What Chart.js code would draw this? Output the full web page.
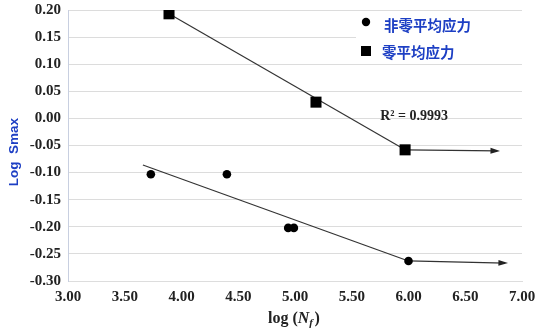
<!DOCTYPE html>
<html>
<head>
<meta charset="utf-8">
<script src="https://cdn.jsdelivr.net/npm/chart.js"></script>
<style>
  html, body { margin: 0; padding: 0; background: #fff; }
  #wrap { width: 554px; height: 330px; }
</style>
</head>
<body>
<div id="wrap"><canvas id="snChart" width="554" height="330"></canvas></div>
<script>
// log(Nf) and log(Smax) readings
const nonZeroLogN = [3.73, 4.40, 4.94, 4.99, 6.00];
const nonZeroLogS = [-0.103, -0.103, -0.202, -0.202, -0.263];
const zeroLogN = [3.89, 5.185, 5.97];
const zeroLogS = [0.193, 0.030, -0.058];

// fitted lines and run-out arrows
const nonZeroFitN = [3.66, 6.00];
const nonZeroFitS = [-0.086, -0.263];
const zeroFitN = [3.89, 5.97];
const zeroFitS = [0.193, -0.058];
const nonZeroRunN = [6.00, 6.85];
const nonZeroRunS = [-0.263, -0.267];
const zeroRunN = [5.97, 6.78];
const zeroRunS = [-0.058, -0.060];

const seriesNames = ['非零平均应力', '零平均应力'];
const r2Text = 'R² = 0.9993';
const r2At = [5.75, 0.0];

const toPts = (xs, ys) => xs.map((x, i) => ({ x: x, y: ys[i] }));

const serif = "'Liberation Serif', 'Times New Roman', serif";
const blue = '#1d3fc4';

const lineSet = (xs, ys, arrow) => ({
  type: 'line',
  data: toPts(xs, ys),
  borderColor: '#333',
  borderWidth: 1.2,
  pointRadius: 0,
  fill: false,
  arrow: arrow
});

// draws arrow heads, legend, R² note and the axis titles
const extras = {
  id: 'extras',
  afterDatasetsDraw(chart) {
    const ctx = chart.ctx;
    const xs = chart.scales.x, ys = chart.scales.y;
    ctx.save();

    chart.data.datasets.forEach((ds) => {
      if (!ds.arrow) return;
      const a = ds.data[ds.data.length - 2], b = ds.data[ds.data.length - 1];
      const x0 = xs.getPixelForValue(a.x), y0 = ys.getPixelForValue(a.y);
      const x1 = xs.getPixelForValue(b.x), y1 = ys.getPixelForValue(b.y);
      const ang = Math.atan2(y1 - y0, x1 - x0);
      ctx.fillStyle = '#222';
      ctx.beginPath();
      ctx.moveTo(x1 + 3, y1);
      ctx.lineTo(x1 + 3 - 10 * Math.cos(ang - 0.3), y1 - 10 * Math.sin(ang - 0.3));
      ctx.lineTo(x1 + 3 - 10 * Math.cos(ang + 0.3), y1 - 10 * Math.sin(ang + 0.3));
      ctx.closePath();
      ctx.fill();
    });

    // legend
    ctx.fillStyle = '#fff';
    ctx.fillRect(356, 14, 168, 46);
    ctx.fillStyle = '#000';
    ctx.beginPath();
    ctx.arc(366, 22, 4.2, 0, Math.PI * 2);
    ctx.fill();
    ctx.fillRect(361, 46, 10, 10);
    ctx.font = "bold 14.5px 'Noto Sans CJK SC', sans-serif";
    ctx.fillStyle = blue;
    ctx.textBaseline = 'middle';
    ctx.textAlign = 'left';
    ctx.fillText(seriesNames[0], 384, 25);
    ctx.fillText(seriesNames[1], 382, 52);

    // R²
    ctx.font = 'bold 14px ' + serif;
    ctx.fillStyle = '#222';
    ctx.fillText(r2Text, xs.getPixelForValue(r2At[0]), ys.getPixelForValue(r2At[1]) - 2);

    // y title
    ctx.save();
    ctx.translate(14, 152);
    ctx.rotate(-Math.PI / 2);
    ctx.textAlign = 'center';
    ctx.font = "bold 13.5px 'Liberation Sans', Arial, sans-serif";
    ctx.fillStyle = blue;
    ctx.fillText('Log  Smax', 0, 0);
    ctx.restore();

    // x title: log (Nf)
    ctx.fillStyle = '#222';
    ctx.textBaseline = 'alphabetic';
    let px = 268;
    const base = 323;
    ctx.font = 'bold 16px ' + serif;
    ctx.fillText('log (', px, base);
    px += ctx.measureText('log (').width;
    ctx.font = 'italic bold 16px ' + serif;
    ctx.fillText('N', px, base);
    px += ctx.measureText('N').width;
    ctx.font = 'italic bold 11px ' + serif;
    ctx.fillText('f', px, base + 3);
    px += ctx.measureText('f').width + 1.5;
    ctx.font = 'bold 16px ' + serif;
    ctx.fillText(')', px, base);

    ctx.restore();
  }
};

// keep the plot box fixed: no extra room for overhanging tick labels
const fixBox = (size) => (s) => {
  if (s.isHorizontal()) s.height = size; else s.width = size;
  s.paddingTop = 0; s.paddingBottom = 0;
  s.paddingLeft = 0; s.paddingRight = 0;
};

new Chart(document.getElementById('snChart'), {
  type: 'scatter',
  data: {
    datasets: [
      {
        label: seriesNames[0],
        data: toPts(nonZeroLogN, nonZeroLogS),
        pointStyle: 'circle',
        pointRadius: 4.3,
        backgroundColor: '#000',
        borderWidth: 0
      },
      {
        label: seriesNames[1],
        data: toPts(zeroLogN, zeroLogS),
        pointStyle: 'rect',
        pointRadius: 7.8,
        backgroundColor: '#000',
        borderWidth: 0
      },
      lineSet(zeroFitN, zeroFitS, false),
      lineSet(nonZeroFitN, nonZeroFitS, false),
      lineSet(zeroRunN, zeroRunS, true),
      lineSet(nonZeroRunN, nonZeroRunS, true)
    ]
  },
  options: {
    responsive: false,
    animation: false,
    layout: { padding: { top: 10, right: 32, bottom: 0, left: 0 } },
    plugins: {
      legend: { display: false },
      tooltip: { enabled: false }
    },
    scales: {
      x: {
        type: 'linear',
        min: 3, max: 7,
        afterFit: fixBox(49),
        grid: { display: false, drawTicks: false },
        border: { display: true, color: '#ddd' },
        ticks: {
          stepSize: 0.5,
          padding: 7,
          color: '#222',
          font: { family: serif, size: 15, weight: 'bold' },
          callback: (v) => v.toFixed(2)
        }
      },
      y: {
        min: -0.3, max: 0.2,
        afterFit: fixBox(68),
        grid: { color: '#dcdcdc', lineWidth: 1, drawTicks: false },
        border: { display: true, color: '#c8cfe0' },
        ticks: {
          stepSize: 0.05,
          padding: 7,
          color: '#222',
          font: { family: serif, size: 15, weight: 'bold' },
          callback: (v) => v.toFixed(2)
        }
      }
    }
  },
  plugins: [extras]
});
</script>
</body>
</html>
